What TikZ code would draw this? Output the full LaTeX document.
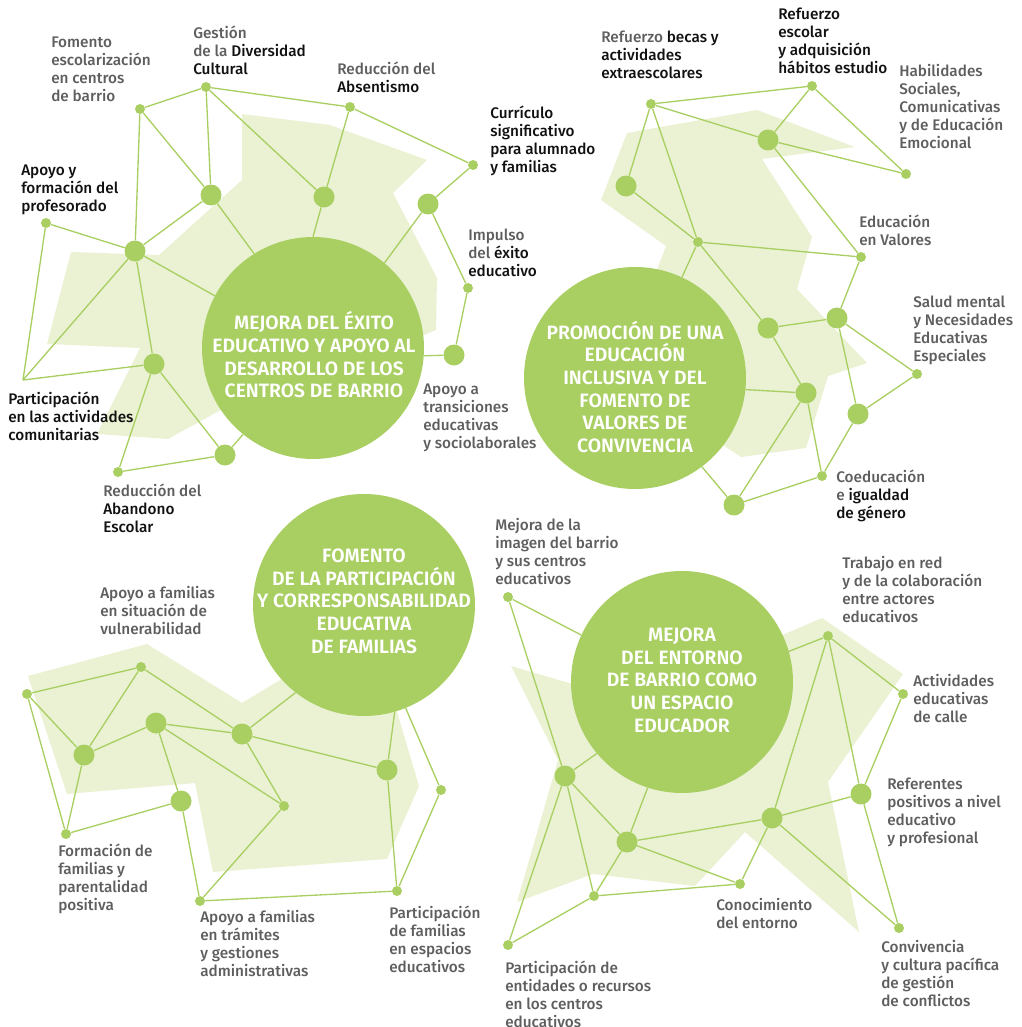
\documentclass[tikz,border=0pt]{standalone}
\usepackage{fontspec}
\setmainfont{Fira Sans}[UprightFont={* Medium},BoldFont={* SemiBold}]
\usepackage{xcolor}
\definecolor{leaf}{HTML}{A9CF62}
\definecolor{leaflight}{HTML}{EAF2D3}
\definecolor{labelgray}{HTML}{5E5E5E}
\definecolor{labeldark}{HTML}{111111}
\newcommand{\dk}[1]{\textcolor{labeldark}{#1}}

\begin{document}
\begin{tikzpicture}[x=0.75pt,y=-0.75pt,
    link/.style={draw=leaf, line width=1pt},
    dot/.style={circle, fill=leaf, inner sep=0pt, minimum size=7.5pt},
    bigdot/.style={circle, fill=leaf, inner sep=0pt, minimum size=15.75pt},
    hub/.style={circle, fill=leaf, inner sep=0pt, minimum size=166.5pt},
    hubtext/.style={text=white, font=\bfseries\fontsize{14.5}{17}\selectfont, align=center, inner sep=0pt},
    lbl/.style={anchor=north west, inner sep=0pt, align=left, text=labelgray, font=\fontsize{11.5}{13.5}\selectfont}]
    \useasboundingbox (0,0) rectangle (1021,1027);

        % light background shapes
        \fill[leaflight] (242,114) -- (330,125) -- (427,160) -- (393,193) -- (437,278) -- (436,330) -- (400,345) -- (230,405) -- (168,439) -- (97,434) -- (140,348) -- (47,344) -- (71,252) -- (159,255) -- (242,180) -- cycle;
        \fill[leaflight] (627,133) -- (757,110) -- (855,147) -- (762,159) -- (812,237) -- (797,289) -- (867,363) -- (828,376) -- (806,448) -- (741,457) -- (700,430) -- (655,275) -- (666,246) -- (601,200) -- cycle;
        \fill[leaflight] (28,676) -- (147,644) -- (242,703) -- (290,674) -- (395,705) -- (419,786) -- (387,859) -- (213,872) -- (195,783) -- (67,794) -- cycle;
        \fill[leaflight] (511,666) -- (600,692) -- (780,636) -- (822,618) -- (903,674) -- (828,782) -- (859,932) -- (745,832) -- (695,886) -- (593,874) -- (517,902) -- (558,760) -- cycle;

        % big circles
        \node[hub] (exito) at (313,348) {};
        \node[hub] (inclus) at (635,378) {};
        \node[hub] (famil) at (364,605) {};
        \node[hub] (entorno) at (682,682) {};
        \node[hubtext] (exitotxt) at (314,355) {MEJORA DEL ÉXITO\\EDUCATIVO Y APOYO AL\\DESARROLLO DE LOS\\CENTROS DE BARRIO};
        \node[hubtext] (inclustxt) at (635,387) {PROMOCIÓN DE UNA\\EDUCACIÓN\\INCLUSIVA Y DEL\\FOMENTO DE\\VALORES DE\\CONVIVENCIA};
        \node[hubtext] (familtxt) at (364,601) {FOMENTO\\DE LA PARTICIPACIÓN\\Y CORRESPONSABILIDAD\\EDUCATIVA\\DE FAMILIAS};
        \node[hubtext] (entornotxt) at (682,680) {MEJORA\\DEL ENTORNO\\DE BARRIO COMO\\UN ESPACIO\\EDUCADOR};

        % dots, top left
        \node[dot] (gestion) at (206,87) {};
        \node[dot] (fomento) at (140,109) {};
        \node[dot] (absent) at (350,107) {};
        \node[dot] (curric) at (473,165) {};
        \node[dot] (profes) at (46,223) {};
        \node[dot] (impulso) at (468,288) {};
        \node[dot] (abandono) at (118,472) {};
        \coordinate (partic) at (23,380);
        \node[bigdot] (e1) at (211,195) {};
        \node[bigdot] (e2) at (324,197) {};
        \node[bigdot] (e3) at (428,204) {};
        \node[bigdot] (e4) at (135,251) {};
        \node[bigdot] (e5) at (154,364) {};
        \node[bigdot] (e6) at (454,355) {};
        \node[bigdot] (e7) at (225,455) {};

        % dots, top right
        \node[dot] (becas) at (651,104) {};
        \node[dot] (escolar) at (812,86) {};
        \node[dot] (habil) at (906,174) {};
        \node[dot] (valores) at (861,257) {};
        \node[dot] (i0) at (698,242) {};
        \node[dot] (salud) at (917,374) {};
        \node[dot] (coedu) at (822,476) {};
        \node[bigdot] (i1) at (768,140) {};
        \node[bigdot] (i2) at (626,186) {};
        \node[bigdot] (i3) at (768,328) {};
        \node[bigdot] (i4) at (837,318) {};
        \node[bigdot] (i5) at (806,393) {};
        \node[bigdot] (i6) at (858,414) {};
        \node[bigdot] (i7) at (734,505) {};

        % dots, bottom left
        \node[dot] (vulner) at (141,667) {};
        \node[dot] (fq) at (27,694) {};
        \node[dot] (formac) at (66,834) {};
        \node[dot] (fs) at (284,806) {};
        \node[dot] (tramit) at (200,901) {};
        \node[dot] (espac) at (397,891) {};
        \node[dot] (fv) at (441,790) {};
        \node[bigdot] (f1) at (84,755) {};
        \node[bigdot] (f2) at (156,723) {};
        \node[bigdot] (f3) at (242,734) {};
        \node[bigdot] (f4) at (181,801) {};
        \node[bigdot] (f5) at (387,770) {};

        % dots, bottom right
        \node[dot] (imagen) at (508,597) {};
        \node[dot] (trabajo) at (828,636) {};
        \node[dot] (calle) at (903,694) {};
        \node[dot] (conoc) at (740,884) {};
        \node[dot] (ma) at (594,896) {};
        \node[dot] (entid) at (508,945) {};
        \node[dot] (conviv) at (899,928) {};
        \node[bigdot] (m1) at (565,776) {};
        \node[bigdot] (m2) at (627,842) {};
        \node[bigdot] (m3) at (772,818) {};
        \node[bigdot] (m4) at (861,794) {};

        % connectors
        \foreach \p/\q in {fomento/gestion, gestion/absent, absent/curric, fomento/e4, fomento/e1, gestion/e1, gestion/e2, absent/e2, curric/e3, e3/impulso, impulso/e6, e1/e4, profes/e4, e4/partic, e4/e5, profes/partic, partic/e5, e5/abandono, e5/e7, abandono/e7,
            e1/exito.122, e2/exito.90, e3/exito.50, e6/exito.-4, e7/exito.231, e4/exito.152}
        \draw[link] (\p) -- (\q);

        \foreach \p/\q in {becas/escolar, becas/i1, i1/habil, escolar/habil, escolar/i1, i1/valores, becas/i2, becas/i0, i2/i0, i0/valores, i0/i3, i3/i4, valores/i4, i4/salud, i4/i6, salud/i6, i3/i5, i5/i7, i5/coedu, i6/coedu, coedu/i7,
            i0/inclus.65, i5/inclus.-6, i7/inclus.-53}
        \draw[link] (\p) -- (\q);

        \foreach \p/\q in {fq/vulner, fq/f1, fq/formac, vulner/f1, vulner/f3, f1/f2, f1/formac, formac/f4, f2/f3, f2/f4, f2/fs, f3/fs, f3/f5, f4/tramit, fs/tramit, tramit/espac, f5/espac, espac/fv,
            f3/famil.232, f5/famil.-74, fv/famil.-68}
        \draw[link] (\p) -- (\q);

        \foreach \p/\q in {imagen/m1, m1/entid, m1/ma, m1/m2, m2/ma, m2/m3, m2/conoc, ma/conoc, ma/entid, m3/trabajo, m3/conoc, m3/m4, m3/conviv, trabajo/calle, trabajo/m4, calle/m4, m4/conviv,
            imagen/entorno.155, m1/entorno.220, m2/entorno.252, trabajo/entorno.16}
        \draw[link] (\p) -- (\q);

        % labels, top left
        \node[lbl] (tFomento) at (51,37) {Fomento\\escolarización\\en centros\\de barrio};
        \node[lbl] (tGestion) at (193,26) {Gestión\\de la \dk{Diversidad}\\\dk{Cultural}};
        \node[lbl] (tAbsent) at (337,62) {Reducción del\\\dk{Absentismo}};
        \node[lbl, text=labeldark] (tCurric) at (490,106) {Currículo\\significativo\\para alumnado\\y familias};
        \node[lbl, text=labeldark] (tProfes) at (21,165) {Apoyo y\\formación del\\profesorado};
        \node[lbl] (tImpulso) at (468,229) {Impulso\\del \dk{éxito}\\\dk{educativo}};
        \node[lbl] (tTransic) at (423,384) {Apoyo a\\transiciones\\educativas\\y sociolaborales};
        \node[lbl, text=labeldark] (tPartic) at (8,392) {Participación\\en las actividades\\comunitarias};
        \node[lbl] (tAbandono) at (103,484) {Reducción del\\\dk{Abandono}\\\dk{Escolar}};

        % labels, top right
        \node[lbl] (tBecas) at (601,31) {Refuerzo \dk{becas y}\\\dk{actividades}\\\dk{extraescolares}};
        \node[lbl, text=labeldark] (tEscolar) at (778,8) {Refuerzo\\escolar\\y adquisición\\hábitos estudio};
        \node[lbl] (tHabil) at (899,64) {Habilidades\\Sociales,\\Comunicativas\\y de Educación\\Emocional};
        \node[lbl] (tValores) at (859,215) {Educación\\en Valores};
        \node[lbl] (tSalud) at (913,296) {Salud mental\\y Necesidades\\Educativas\\Especiales};
        \node[lbl] (tCoedu) at (836,470) {Coeducación\\e \dk{igualdad}\\\dk{de género}};

        % labels, bottom left
        \node[lbl] (tVulner) at (100,586) {Apoyo a familias\\en situación de\\vulnerabilidad};
        \node[lbl] (tFormac) at (58,844) {Formación de\\familias y\\parentalidad\\positiva};
        \node[lbl] (tTramit) at (200,910) {Apoyo a familias\\en trámites\\y gestiones\\administrativas};
        \node[lbl] (tEspac) at (389,906) {Participación\\de familias\\en espacios\\educativos};

        % labels, bottom right
        \node[lbl] (tImagen) at (495,518) {Mejora de la\\imagen del barrio\\y sus centros\\educativos};
        \node[lbl] (tTrabajo) at (842,556) {Trabajo en red\\y de la colaboración\\entre actores\\educativos};
        \node[lbl] (tCalle) at (913,674) {Actividades\\educativas\\de calle};
        \node[lbl] (tRefer) at (887,778) {Referentes\\positivos a nivel\\educativo\\y profesional};
        \node[lbl] (tConoc) at (716,898) {Conocimiento\\del entorno};
        \node[lbl] (tConviv) at (881,940) {Convivencia\\y cultura pacífica\\de gestión\\de conflictos};
        \node[lbl] (tEntid) at (505,961) {Participación de\\entidades o recursos\\en los centros\\educativos};
    \end{tikzpicture}
\end{document}
